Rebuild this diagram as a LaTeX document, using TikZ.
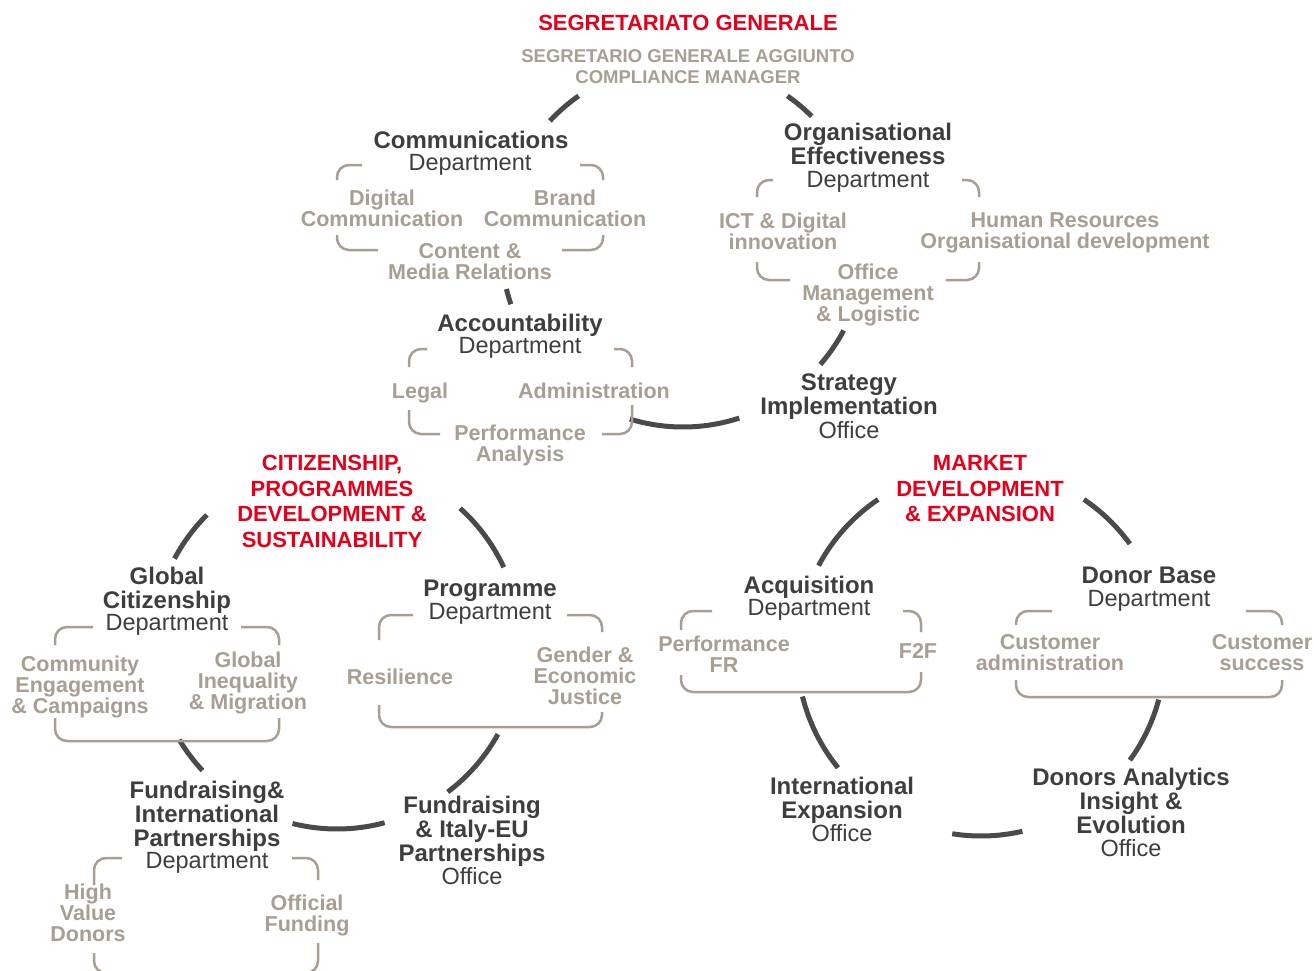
\documentclass[tikz,border=0pt]{standalone}
\usepackage{fontspec}
\setmainfont{Liberation Sans}
\definecolor{darktxt}{HTML}{3E3E3D}
\definecolor{ringc}{HTML}{4A4A48}
\definecolor{taupe}{HTML}{A89E92}
\definecolor{redc}{HTML}{E3001B}
\newcommand\ringarc[4]{\draw[ring] (#1) ++(-#3:#2) arc[start angle=-#3, end angle=-#4, radius=#2];}
\begin{document}
\begin{tikzpicture}[x=1pt,y=-1pt,
  ring/.style={draw=ringc,line width=5pt},
  brk/.style={draw=taupe,line width=2.5pt,rounded corners=12pt},
  title/.style={font=\fontsize{24}{24}\selectfont\bfseries,text=darktxt,align=center,inner sep=0pt,anchor=north},
  sub/.style={font=\fontsize{23.5}{24}\selectfont,text=darktxt,align=center,inner sep=0pt,anchor=north},
  item/.style={font=\fontsize{21.5}{21.3}\selectfont\bfseries,text=taupe,align=center,inner sep=0pt,anchor=north},
  redhead/.style={font=\fontsize{22}{25.6}\selectfont\bfseries,text=redc,align=center,inner sep=0pt,anchor=north},
  capsline/.style={font=\fontsize{18.5}{21}\selectfont\bfseries,text=taupe,align=center,inner sep=0pt,anchor=north}]
\useasboundingbox (0,0) rectangle (1314,971);
\clip (0,0) rectangle (1314,971);
\fill[white] (0,0) rectangle (1314,971);

% ---- circle centres
\coordinate (c1) at (683,245);
\coordinate (c2) at (337,645);
\coordinate (c3) at (981,652);

% ---- top circle arcs
\ringarc{c1}{182}{125}{137}
\ringarc{c1}{182}{45}{55}
\ringarc{c1}{182}{194}{199}
\ringarc{c1}{182}{253}{288}
\ringarc{c1}{182}{319}{332}
% ---- bottom-left circle arcs
\ringarc{c2}{184}{135}{152}
\ringarc{c2}{184}{25}{48}
\ringarc{c2}{184}{211}{223}
\ringarc{c2}{184}{256}{285}
\ringarc{c2}{184}{307}{331}
% ---- bottom-right circle arcs
\ringarc{c3}{184}{124}{152}
\ringarc{c3}{184}{36}{56}
\ringarc{c3}{184}{194}{219}
\ringarc{c3}{184}{261}{283}
\ringarc{c3}{184}{324}{345}

% ---- bracket boxes
% Communications
\draw[brk] (337,180) |- (362,165);
\draw[brk] (580,165) -| (603,180);
\draw[brk] (337,235) |- (378,250);
\draw[brk] (562,250) -| (603,235);
% Organisational Effectiveness
\draw[brk] (757,197) |- (773,180);
\draw[brk] (962,180) -| (979,197);
\draw[brk] (757,262) |- (790,280);
\draw[brk] (946,280) -| (979,262);
% Accountability
\draw[brk] (409,367) |- (427,349);
\draw[brk] (614,349) -| (632,367);
\draw[brk] (409,410) |- (440,434);
\draw[brk] (602,434) -| (632,405);
% Global Citizenship
\draw[brk] (55,645) |- (93,627);
\draw[brk] (241,627) -| (279,645);
\draw[brk] (55,718) |- (279,741) -- (279,718);
% Programme
\draw[brk] (379,640) |- (413,615);
\draw[brk] (567,615) -| (602,632);
\draw[brk] (379,705) |- (602,727) -- (602,712);
% Fundraising & International Partnerships
\draw[brk] (94,885) |- (122,858);
\draw[brk] (292,858) -| (318,880);
\draw[brk] (94,953) |- (318,973) -- (318,943);
% Acquisition
\draw[brk] (681,630) |- (712,611);
\draw[brk] (903,611) -| (921,632);
\draw[brk] (681,675) |- (921,692) -- (921,672);
% Donor Base
\draw[brk] (1016,625) |- (1052,611);
\draw[brk] (1246,611) -| (1282,625);
\draw[brk] (1016,680) |- (1282,697) -- (1282,680);

% ---- top group
\node[redhead] (sg) at (688,15.1) {SEGRETARIATO GENERALE};
\node[capsline] (sga) at (688,49.4) {SEGRETARIO GENERALE AGGIUNTO\\COMPLIANCE MANAGER};
\node[title] (comm) at (471,130.5) {Communications};
\node[sub] (commd) at (470,154.6) {Department};
\node[item] (dc) at (382,189.3) {Digital\\Communication};
\node[item] (bc) at (565,189.3) {Brand\\Communication};
\node[item] (cmr) at (470,243.3) {Content \&\\Media Relations};
\node[title] (oe) at (868,122.5) {Organisational\\Effectiveness};
\node[sub] (oed) at (868,171.6) {Department};
\node[item] (ict) at (783,212.3) {ICT \& Digital\\innovation};
\node[item] (hr) at (1065,212.3) {Human Resources\\Organisational development};
\node[item] (oml) at (868,263.3) {Office\\Management\\\& Logistic};
\node[title] (acc) at (520,313.5) {Accountability};
\node[sub] (accd) at (520,337.6) {Department};
\node[item] (legal) at (420,382.3) {Legal};
\node[item] (admin) at (594,382.3) {Administration};
\node[item] (pa) at (520,424.3) {Performance\\Analysis};
\node[title] (sio) at (849,373.5) {Strategy\\Implementation};
\node[sub] (siod) at (849,421.6) {Office};

% ---- bottom-left group
\node[redhead] (cit) at (332,455.1) {CITIZENSHIP,\\PROGRAMMES\\DEVELOPMENT \&\\SUSTAINABILITY};
\node[title] (gc) at (167,566.5) {Global\\Citizenship};
\node[sub] (gcd) at (167,614.6) {Department};
\node[item] (ceg) at (80,655.3) {Community\\Engagement\\\& Campaigns};
\node[item] (gim) at (248,651.3) {Global\\Inequality\\\& Migration};
\node[title] (prog) at (490,579.5) {Programme};
\node[sub] (progd) at (490,603.6) {Department};
\node[item] (res) at (400,668.3) {Resilience};
\node[item] (gej) at (585,646.3) {Gender \&\\Economic\\Justice};
\node[title] (fip) at (207,780.5) {Fundraising\&\\International\\Partnerships};
\node[sub] (fipd) at (207,852.6) {Department};
\node[item] (hvd) at (88,883.3) {High\\Value\\Donors};
\node[item] (off) at (307,894.3) {Official\\Funding};
\node[title] (fie) at (472,795.5) {Fundraising\\\& Italy-EU\\Partnerships};
\node[sub] (fied) at (472,867.6) {Office};

% ---- bottom-right group
\node[redhead] (mde) at (980,455.1) {MARKET\\DEVELOPMENT\\\& EXPANSION};
\node[title] (acq) at (809,575.5) {Acquisition};
\node[sub] (acqd) at (809,599.6) {Department};
\node[item] (pfr) at (724,635.3) {Performance\\FR};
\node[item] (f2f) at (918,643.3) {F2F};
\node[title] (db) at (1149,566.5) {Donor Base};
\node[sub] (dbd) at (1149,590.6) {Department};
\node[item] (ca) at (1050,634.3) {Customer\\administration};
\node[item] (cs) at (1262,634.3) {Customer\\success};
\node[title] (ie) at (842,776.5) {International\\Expansion};
\node[sub] (ied) at (842,824.6) {Office};
\node[title] (dai) at (1131,767.5) {Donors Analytics\\Insight \&\\Evolution};
\node[sub] (daid) at (1131,839.6) {Office};
\end{tikzpicture}
\end{document}
